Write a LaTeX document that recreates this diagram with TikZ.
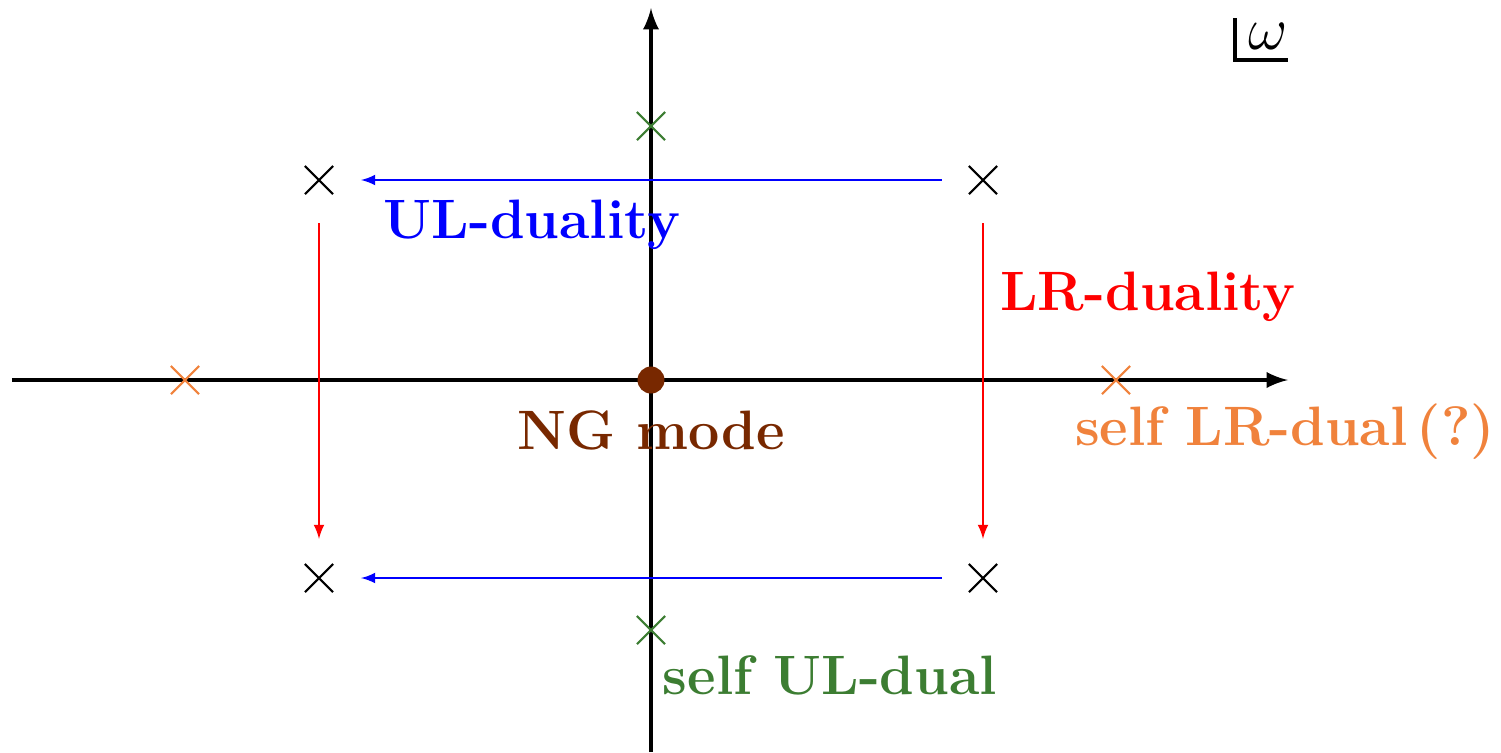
\documentclass[tikz,border=0pt]{standalone}
\usetikzlibrary{shapes.misc}
\definecolor{brun}{RGB}{120,40,0}
\definecolor{orange}{RGB}{240,130,60}
\definecolor{vert}{RGB}{60,125,50}
\begin{document}
\begin{tikzpicture}[
    axe/.style={line width=1.1pt, -latex},
    croix/.style={cross out, draw, semithick, minimum size=0.26cm, inner sep=0pt},
    fleche/.style={->, >=latex, thin},
    etiquette/.style={font=\fontsize{15.8pt}{19pt}\selectfont\bfseries}
]
    \useasboundingbox (-6.51,-3.72) rectangle (8.50,3.80);

    % axes
    \coordinate (xg) at (-6.39,0);
    \coordinate (xd) at (6.37,0);
    \coordinate (yb) at (0,-3.72);
    \coordinate (yh) at (0,3.72);
    \draw[axe] (xg) -- (xd);
    \draw[axe] (yb) -- (yh);

    % omega
    \coordinate (oc) at (5.84,3.2);
    \coordinate (od) at (6.37,3.2);
    \draw[line width=1.1pt] (5.84,3.62) -- (oc) -- (od);
    \node[font=\fontsize{17.5pt}{21pt}\selectfont] (omega) at (6.17,3.44) {$\omega$};

    % modes
    \node[croix] (hg) at (-3.32,2) {};
    \node[croix] (hd) at (3.32,2) {};
    \node[croix] (bg) at (-3.32,-1.98) {};
    \node[croix] (bd) at (3.32,-1.98) {};
    \node[croix, vert] (vh) at (0,2.54) {};
    \node[croix, vert] (vb) at (0,-2.5) {};
    \node[croix, orange] (og) at (-4.66,0) {};
    \node[croix, orange] (odr) at (4.65,0) {};
    \fill[brun] (0,0) circle (0.135) coordinate (ng);

    % dualites
    \draw[fleche, blue, shorten <=0.27cm, shorten >=0.28cm] (hd) -- (hg);
    \draw[fleche, blue, shorten <=0.27cm, shorten >=0.28cm] (bd) -- (bg);
    \draw[fleche, red, shorten <=0.29cm, shorten >=0.25cm] (hg) -- (bg);
    \draw[fleche, red, shorten <=0.29cm, shorten >=0.25cm] (hd) -- (bd);

    % etiquettes
    \node[etiquette, blue] (ul) at (-1.19,1.55) {UL-duality};
    \node[etiquette, red] (lr) at (4.97,0.83) {LR-duality};
    \node[etiquette, brun] (ngm) at (0,-0.5) {NG mode};
    \node[etiquette, orange] (slr) at (6.34,-0.52) {self LR-dual\,(?)};
    \node[etiquette, vert] (sul) at (1.79,-2.95) {self UL-dual};
\end{tikzpicture}
\end{document}
